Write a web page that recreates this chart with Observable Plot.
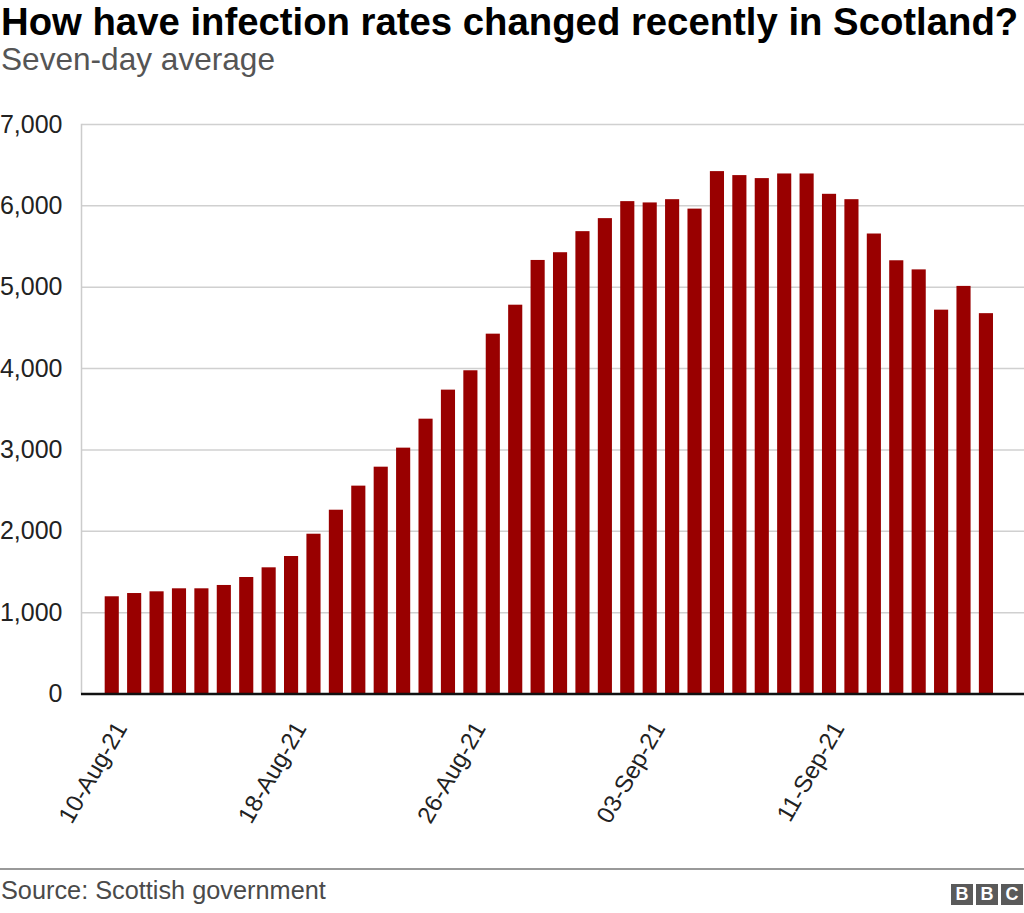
<!DOCTYPE html>
<html>
<head>
<meta charset="utf-8">
<script src="https://cdn.jsdelivr.net/npm/d3@7"></script>
<script src="https://cdn.jsdelivr.net/npm/@observablehq/plot@0.6"></script>
<style>
  html, body { margin: 0; padding: 0; background: #fff; }
  body { width: 1024px; height: 913px; position: relative; overflow: hidden; font-family: "Liberation Sans", Arial, Helvetica, sans-serif; }
  #title { position: absolute; left: 1px; top: 3px; font-size: 38.3px; line-height: 38px; font-weight: bold; color: #000; white-space: nowrap; }
  #subtitle { position: absolute; left: 1px; top: 44px; font-size: 31.6px; line-height: 31px; color: #555; white-space: nowrap; }
  #chart { position: absolute; left: 0; top: 96px; }
  #rule { position: absolute; left: 0; top: 868px; width: 1024px; height: 2px; background: #999; }
  #source { position: absolute; left: 1px; top: 878px; font-size: 25.3px; line-height: 24px; color: #4a4a4a; white-space: nowrap; }
  #bbc { position: absolute; left: 951px; top: 884px; display: flex; gap: 3px; }
  #bbc div { width: 22px; height: 21px; background: #5a5a5a; color: #fff; font-weight: bold; font-size: 18px; line-height: 21px; text-align: center; }
</style>
</head>
<body>
<div id="title">How have infection rates changed recently in Scotland?</div>
<div id="subtitle">Seven-day average</div>
<div id="chart"></div>
<div id="rule"></div>
<div id="source">Source: Scottish government</div>
<div id="bbc"><div>B</div><div>B</div><div>C</div></div>
<script>
const dates = [
  "2021-08-10","2021-08-11","2021-08-12","2021-08-13","2021-08-14","2021-08-15","2021-08-16","2021-08-17",
  "2021-08-18","2021-08-19","2021-08-20","2021-08-21","2021-08-22","2021-08-23","2021-08-24","2021-08-25",
  "2021-08-26","2021-08-27","2021-08-28","2021-08-29","2021-08-30","2021-08-31","2021-09-01","2021-09-02",
  "2021-09-03","2021-09-04","2021-09-05","2021-09-06","2021-09-07","2021-09-08","2021-09-09","2021-09-10",
  "2021-09-11","2021-09-12","2021-09-13","2021-09-14","2021-09-15","2021-09-16","2021-09-17","2021-09-18"
];
const cases = [
  1195, 1235, 1256, 1293, 1293, 1334, 1432, 1551,
  1690, 1964, 2259, 2555, 2788, 3022, 3378, 3735,
  3973, 4423, 4779, 5329, 5424, 5683, 5843, 6052,
  6036, 6076, 5960, 6421, 6372, 6335, 6392, 6392,
  6142, 6076, 5654, 5325, 5213, 4718, 5010, 4675
];
const xTickDates = ["2021-08-10","2021-08-18","2021-08-26","2021-09-03","2021-09-11"];
const yTicks = [0, 1000, 2000, 3000, 4000, 5000, 6000, 7000];

const data = dates.map((d, i) => ({date: d, value: cases[i]}));
const fmtDate = d3.utcFormat("%d-%b-%y");
const parse = d3.utcParse("%Y-%m-%d");

const chart = Plot.plot({
  width: 1024,
  height: 770,
  marginTop: 28,
  marginBottom: 172.5,
  marginLeft: 81,
  marginRight: 0,
  style: {fontFamily: "'Liberation Sans', Arial, sans-serif", color: "#222", background: "transparent"},
  x: {type: "band", domain: dates, paddingInner: 0.37, paddingOuter: 1.22, align: 0.433, round: false},
  y: {domain: [0, 7000]},
  marks: [
    Plot.ruleY(yTicks.filter(d => d > 0), {stroke: "#d0d0d0", strokeWidth: 1.5, strokeOpacity: 1, insetLeft: 1}),
    Plot.frame({anchor: "left", stroke: "#cccccc", strokeWidth: 1.5}),
    Plot.barY(data, {x: "date", y: "value", fill: "#990000"}),
    Plot.ruleY([0], {stroke: "#111", strokeWidth: 2.5}),
    Plot.axisY({ticks: yTicks, tickSize: 0, tickPadding: 19, fontSize: 25, tickFormat: d3.format(","), label: null}),
    Plot.axisX({ticks: xTickDates, tickSize: 0, tickRotate: -60, fontSize: 24, tickPadding: 30, dx: 9, label: null,
      tickFormat: d => fmtDate(parse(d))})
  ]
});
document.getElementById("chart").appendChild(chart);
</script>
</body>
</html>
